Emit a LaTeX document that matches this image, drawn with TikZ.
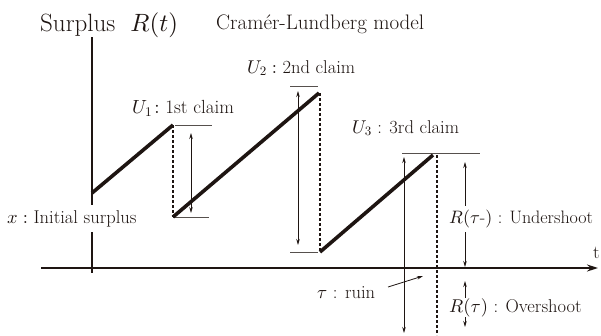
\documentclass[tikz,border=0pt]{standalone}
\usepackage{fontspec}
\DeclareFontFamily{OML}{cmm}{\skewchar\font'177}
\DeclareFontShape{OML}{cmm}{m}{it}{<-> cmmi10}{}
\DeclareFontFamily{OMS}{cmsy}{\skewchar\font'60}
\DeclareFontShape{OMS}{cmsy}{m}{n}{<-> cmsy10}{}
\DeclareFontFamily{OT1}{cmr}{}
\DeclareFontShape{OT1}{cmr}{m}{n}{<-> cmr10}{}
\usetikzlibrary{arrows.meta}
\definecolor{ink}{HTML}{1E1512}
\tikzset{
  axisline/.style={draw=ink, line width=1.6pt},
  pathline/.style={draw=ink, line width=3.6pt},
  dotline/.style={draw=ink, line width=1.8pt, dash pattern=on 3pt off 2pt},
  levelline/.style={draw=ink!75, line width=1pt},
  measure/.style={draw=ink, line width=0.8pt, {Stealth[length=6pt,width=3.5pt]}-{Stealth[length=6pt,width=3.5pt]}},
  pointer/.style={draw=ink, line width=0.8pt, -{Stealth[length=6pt,width=3.5pt]}},
  lab/.style={anchor=base west, inner sep=0pt, text=ink, font=\fontsize{18.5}{22}\selectfont},
  masked/.style={fill=white, inner ysep=2pt, inner xsep=1pt},
}
\begin{document}
\begin{tikzpicture}[x=1pt,y=-1pt]
\useasboundingbox (0,0) rectangle (601,335);
% axes
\coordinate (ytop) at (92,37);
\coordinate (ybot) at (92,273);
\coordinate (xl) at (41,268);
\coordinate (xr) at (598,268);
\draw[axisline] (ytop) -- (ybot);
\draw[axisline, -{Stealth[length=11pt,width=7pt]}] (xl) -- (xr);
% path points
\coordinate (p0) at (92,193);
\coordinate (p1) at (173,125);
\coordinate (q1) at (173,217);
\coordinate (p2) at (319,93);
\coordinate (q2) at (320,252);
\coordinate (p3) at (433,155);
% dotted jumps
\coordinate (d1t) at (173,125);
\coordinate (d1b) at (173,217);
\coordinate (d2t) at (320,93);
\coordinate (d2b) at (320,252);
\coordinate (d3t) at (437,155);
\coordinate (d3b) at (437,335);
\draw[dotline] (d1t) -- (d1b);
\draw[dotline] (d2t) -- (d2b);
\draw[dotline] (d3t) -- (d3b);
% level lines
\coordinate (l1a) at (175,125); \coordinate (l1b) at (212,125);
\coordinate (l1c) at (173,217.5); \coordinate (l1d) at (209,217.5);
\coordinate (l2a) at (290,86); \coordinate (l2b) at (318,86);
\coordinate (l2c) at (290,252.5); \coordinate (l2d) at (318,252.5);
\coordinate (l3a) at (402,153); \coordinate (l3b) at (480,153);
\draw[levelline] (l1a) -- (l1b);
\draw[levelline] (l1c) -- (l1d);
\draw[levelline] (l2a) -- (l2b);
\draw[levelline] (l2c) -- (l2d);
\draw[levelline] (l3a) -- (l3b);
% measuring arrows
\coordinate (m1a) at (191,133); \coordinate (m1b) at (191,213);
\coordinate (m2a) at (298,91); \coordinate (m2b) at (298,245);
\coordinate (m3a) at (404,157); \coordinate (m3b) at (404,333);
\coordinate (m4a) at (465,162); \coordinate (m4b) at (465,267);
\coordinate (m5a) at (465,281); \coordinate (m5b) at (465,327);
\draw[measure] (m1a) -- (m1b);
\draw[measure] (m2a) -- (m2b);
\draw[measure] (m3a) -- (m3b);
\draw[measure] (m4a) -- (m4b);
\draw[measure] (m5a) -- (m5b);
% surplus path
\draw[pathline] (p0) -- (p1);
\draw[pathline] (q1) -- (p2);
\draw[pathline] (q2) -- (p3);
% labels
\node[lab, font=\fontsize{25}{29}\selectfont] (title) at (40,31) {Surplus\hspace{0.3em} $R(t)$};
\node[lab, font=\fontsize{21}{25}\selectfont] (model) at (216,29) {Cramér-Lundberg model};
\node[lab, font=\fontsize{19}{23}\selectfont] (u1) at (132,113.5) {$U_1\!:$ 1st claim};
\node[lab] (u2) at (247,73) {$U_2:$ 2nd claim};
\node[lab] (u3) at (352,133) {$U_3$ : 3rd claim};
\node[lab, fill=white, inner ysep=5pt, inner xsep=1pt] (init) at (6,223) {$x:$ Initial surplus};
\node[lab, masked, inner ysep=4pt, font=\fontsize{18}{22}\selectfont] (under) at (448,223) {$R(\tau\mbox{-})$ : Undershoot};
\node[lab, masked, inner ysep=0.5pt] (over) at (448,312) {$R(\tau)$ : Overshoot};
\node[lab] (ruin) at (317,298) {$\tau$ : ruin};
\node[lab] (tlab) at (593,258) {t};
% ruin pointer
\coordinate (r1) at (388,287);
\coordinate (r2) at (423,276);
\draw[pointer] (r1) -- (r2);
\end{tikzpicture}
\end{document}
